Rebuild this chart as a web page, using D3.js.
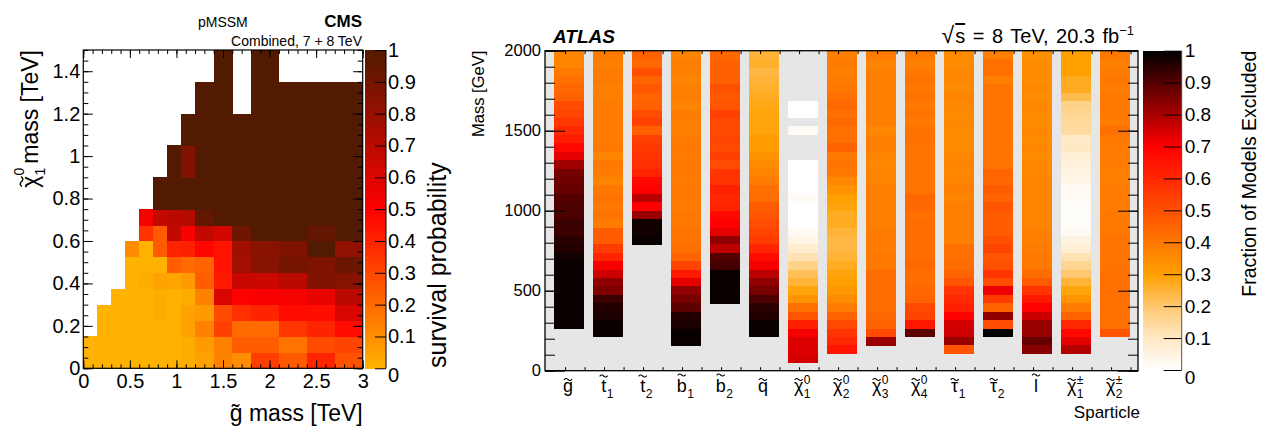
<!DOCTYPE html>
<html>
<head>
<meta charset="utf-8">
<script src="https://cdn.jsdelivr.net/npm/d3@7"></script>
<style>
  body { margin: 0; background: #fff; }
  svg text { font-family: "Liberation Sans", Arial, Helvetica, sans-serif; fill: #000; }
  rect { shape-rendering: crispEdges; }
</style>
</head>
<body>
<svg id="chart" width="1262" height="427"></svg>
<script>
// ---------------- CMS panel data ----------------
// gluino mass bin edges [TeV] (variable binning) and neutralino mass bin edges [TeV]
const cmsGluinoEdges = [0, 0.15, 0.3, 0.45, 0.6, 0.75, 0.9, 1.05, 1.2, 1.4, 1.6, 1.8, 2.1, 2.4, 2.7, 3.0];
const cmsLspEdges = [0, 0.075, 0.15, 0.225, 0.3, 0.375, 0.45, 0.525, 0.6, 0.675, 0.75,
                     0.825, 0.9, 0.975, 1.05, 1.125, 1.2, 1.275, 1.35, 1.425, 1.5];
const N = null;
// survival probability, one row per neutralino bin (bottom -> top), one entry per gluino bin
const cmsSurvival = [
  [0, 0, 0, 0, 0, 0, 0, 0.02, 0.05, 0.14, 0.10, 0.33, 0.25, 0.40, 0.27],
  [0, 0, 0, 0, 0, 0, 0, 0.02, 0.07, 0.14, 0.24, 0.24, 0.18, 0.29, 0.31],
  [N, 0, 0, 0, 0, 0, 0, 0.05, 0.14, 0.32, 0.20, 0.20, 0.35, 0.40, 0.47],
  [N, 0, 0, 0, 0, 0.02, 0, 0.05, 0.07, 0.29, 0.37, 0.40, 0.47, 0.46, 0.61],
  [N, N, 0, 0, 0, 0.02, 0, 0.02, 0.14, 0.61, 0.50, 0.52, 0.53, 0.57, 0.70],
  [N, N, N, 0, 0.02, 0.05, 0.04, 0.07, 0.24, 0.43, 0.66, 0.65, 0.70, 0.86, 0.85],
  [N, N, N, 0, 0, 0, 0.24, 0.20, 0.22, 0.45, 0.77, 0.85, 0.90, 0.87, 0.93],
  [N, N, N, 0.11, 0, 0.25, 0.40, 0.41, 0.48, 0.45, 0.78, 0.84, 0.87, 1, 0.82],
  [N, N, N, N, 0.36, 0.25, 0.68, 0.52, 0.68, 0.62, 0.92, 1, 1, 0.95, 1],
  [N, N, N, N, 0.53, 0.68, 0.70, 0.72, 0.95, 1, 1, 1, 1, 1, 1],
  [N, N, N, N, N, 1, 1, 1, 1, 1, 1, 1, 1, 1, 1],
  [N, N, N, N, N, 1, 1, 1, 1, 1, 1, 1, 1, 1, 1],
  [N, N, N, N, N, N, 1, 0.87, 1, 1, 1, 1, 1, 1, 1],
  [N, N, N, N, N, N, 1, 0.87, 1, 1, 1, 1, 1, 1, 1],
  [N, N, N, N, N, N, N, 1, 1, 1, 1, 1, 1, 1, 1],
  [N, N, N, N, N, N, N, 1, 1, 1, 1, 1, 1, 1, 1],
  [N, N, N, N, N, N, N, N, 1, 1, N, 1, 1, 1, 1],
  [N, N, N, N, N, N, N, N, 1, 1, N, 1, 1, 1, 1],
  [N, N, N, N, N, N, N, N, N, 1, N, 1, N, N, N],
  [N, N, N, N, N, N, N, N, N, 1, N, 1, N, N, N]
];
const cmsXTicks = [0, 0.5, 1, 1.5, 2, 2.5, 3];
const cmsYTicks = [0, 0.2, 0.4, 0.6, 0.8, 1, 1.2, 1.4];
const cmsZTicks = [0, 0.1, 0.2, 0.3, 0.4, 0.5, 0.6, 0.7, 0.8, 0.9, 1];

// ---------------- ATLAS panel data ----------------
const massBinWidth = 2000 / 38;   // GeV, bins listed from 2000 GeV downwards
const gluino   = [0.37,0.37,0.40,0.42,0.44,0.46,0.51,0.53,0.56,0.60,0.63,0.68,0.73,0.81,0.86,0.87,0.88,0.90,0.91,0.91,0.93,0.93,0.95,0.96,0.98,0.99,0.99,0.99,0.99,0.99,0.99,0.99,0.99];
const stop1    = [0.39,0.38,0.39,0.39,0.38,0.38,0.39,0.39,0.39,0.39,0.39,0.40,0.37,0.40,0.39,0.37,0.40,0.41,0.40,0.41,0.39,0.47,0.47,0.55,0.61,0.71,0.76,0.83,0.85,0.93,0.96,0.97,0.99,0.99];
const stop2    = [0.46,0.44,0.50,0.45,0.48,0.45,0.46,0.51,0.54,0.46,0.54,0.56,0.57,0.58,0.61,0.68,0.70,0.78,0.70,0.82,0.98,0.98,0.99];
const sbottom1 = [0.37,0.38,0.38,0.37,0.38,0.38,0.37,0.39,0.38,0.38,0.39,0.40,0.39,0.40,0.40,0.39,0.40,0.40,0.39,0.40,0.40,0.41,0.41,0.42,0.45,0.53,0.64,0.73,0.83,0.86,0.89,0.96,0.97,0.99,0.99];
const sbottom2 = [0.44,0.46,0.46,0.46,0.50,0.48,0.49,0.54,0.52,0.52,0.53,0.52,0.54,0.51,0.57,0.57,0.62,0.60,0.61,0.68,0.70,0.73,0.83,0.78,0.90,0.92,0.99,0.99,0.99,0.99];
const squark   = [0.25,0.26,0.24,0.25,0.26,0.27,0.28,0.29,0.29,0.29,0.31,0.31,0.33,0.35,0.37,0.39,0.42,0.43,0.47,0.49,0.51,0.53,0.55,0.61,0.67,0.71,0.78,0.83,0.86,0.91,0.95,0.96,0.99,0.99];
const neutralino1 = [N,N,N,N,N,N,0,0,N,0.02,N,N,N,0,0,0,0,0.02,0,0,0,0.02,0.04,0.08,0.12,0.17,0.22,0.25,0.29,0.33,0.42,0.49,0.62,0.71,0.74,0.74,0.75];
const neutralino2 = [0.38,0.39,0.38,0.39,0.40,0.42,0.44,0.42,0.44,0.42,0.42,0.45,0.40,0.41,0.40,0.36,0.33,0.30,0.29,0.27,0.27,0.25,0.24,0.24,0.25,0.27,0.29,0.30,0.32,0.35,0.39,0.45,0.52,0.57,0.60,0.65];
const neutralino3 = [0.39,0.37,0.38,0.38,0.38,0.38,0.38,0.38,0.38,0.36,0.38,0.38,0.37,0.36,0.37,0.37,0.38,0.38,0.38,0.38,0.38,0.39,0.39,0.39,0.40,0.40,0.43,0.43,0.43,0.43,0.43,0.44,0.45,0.52,0.82];
const neutralino4 = [0.40,0.38,0.40,0.41,0.40,0.41,0.40,0.41,0.40,0.41,0.42,0.41,0.41,0.41,0.41,0.41,0.41,0.44,0.44,0.42,0.43,0.43,0.43,0.43,0.43,0.44,0.43,0.43,0.44,0.45,0.52,0.53,0.64,0.89];
const stau1    = [0.35,0.35,0.36,0.36,0.35,0.37,0.36,0.35,0.36,0.35,0.35,0.35,0.36,0.37,0.36,0.37,0.38,0.37,0.38,0.38,0.38,0.38,0.38,0.42,0.42,0.43,0.45,0.49,0.57,0.60,0.62,0.70,0.75,0.76,0.82,0.49];
const stau2    = [0.38,0.42,0.42,0.38,0.41,0.41,0.41,0.41,0.41,0.41,0.41,0.41,0.41,0.41,0.45,0.44,0.47,0.45,0.49,0.47,0.47,0.47,0.50,0.53,0.49,0.50,0.57,0.51,0.72,0.55,0.45,0.83,0.51,1.0];
const slepton  = [0.34,0.35,0.35,0.35,0.36,0.35,0.36,0.35,0.35,0.36,0.35,0.36,0.35,0.36,0.36,0.37,0.37,0.37,0.37,0.37,0.37,0.38,0.38,0.39,0.40,0.40,0.43,0.47,0.57,0.64,0.70,0.76,0.82,0.82,0.88,0.84];
const chargino1 = [0.30,0.30,0.30,0.27,0.27,0.23,0.17,0.16,0.15,0.14,0.09,0.10,0.07,0.06,0.05,0.04,0.02,0.02,0.01,0.01,0.01,0.02,0.05,0.07,0.12,0.16,0.20,0.25,0.29,0.33,0.39,0.45,0.60,0.68,0.73,0.79];
const chargino2 = [0.40,0.38,0.39,0.40,0.39,0.40,0.40,0.40,0.39,0.42,0.40,0.39,0.39,0.39,0.38,0.38,0.39,0.39,0.39,0.40,0.40,0.40,0.41,0.41,0.41,0.41,0.42,0.42,0.42,0.42,0.42,0.42,0.42,0.49];

const sparticleBars = [gluino, stop1, stop2, sbottom1, sbottom2, squark,
  neutralino1, neutralino2, neutralino3, neutralino4, stau1, stau2, slepton, chargino1, chargino2];
const sparticleBase = ["g","t","t","b","b","q","χ","χ","χ","χ","τ","τ","l","χ","χ"];
const sparticleSub  = ["","1","2","1","2","","1","2","3","4","1","2","","1","2"];
const sparticleSup  = ["","","","","","","0","0","0","0","","","","±","±"];
const atlasYTicks = [0, 500, 1000, 1500, 2000];
const atlasZTicks = [0, 0.1, 0.2, 0.3, 0.4, 0.5, 0.6, 0.7, 0.8, 0.9, 1];

const svg = d3.select("#chart");
const fmt = d3.format("~g");

// ---------------- helpers ----------------
function tickAxis(g, axisFn, scale, values, size, labels, pad, format) {
  const ax = axisFn(scale).tickValues(values).tickSize(-size).tickPadding(pad || 4);
  ax.tickFormat(labels ? (format || fmt) : "");
  g.call(ax);
  g.select(".domain").remove();
  g.selectAll(".tick line").attr("stroke", "#000");
  g.selectAll(".tick text").attr("fill", "#000");
  return g;
}

// a small tilde drawn as a path, centred at (x, y)
function tilde(parent, x, y, w, sw) {
  const a = w * 0.16;
  const pts = d3.range(0, 1.0001, 0.1).map(function(t) {
    return [x - w / 2 + t * w, y - a * Math.sin(2 * Math.PI * t) + a * 0.5 * (0.5 - t)];
  });
  parent.append("path").attr("d", d3.line().curve(d3.curveBasis)(pts))
    .attr("fill", "none").attr("stroke", "#000").attr("stroke-width", sw || 1.1);
}

// letter with tilde and optional stacked sub/superscript, centred at cx
const tallLetters = { t: 16, b: 17, l: 17 };
function tildeLabel(parent, cx, y, base, sub, sup, size, idxSize, subDy, supDy) {
  const g = parent.append("g");
  const main = g.append("text").attr("y", y).attr("font-size", size).text(base);
  const w = main.node().getComputedTextLength();
  let iw = 0, subT = null, supT = null;
  if (sub) {
    subT = g.append("text").attr("y", y + subDy).attr("font-size", idxSize).text(sub);
    iw = Math.max(iw, subT.node().getComputedTextLength());
  }
  if (sup) {
    supT = g.append("text").attr("y", y + supDy).attr("font-size", idxSize).text(sup);
    iw = Math.max(iw, supT.node().getComputedTextLength());
  }
  const x0 = cx - (w + iw) / 2;
  main.attr("x", x0);
  if (subT) subT.attr("x", x0 + w + 0.5);
  if (supT) supT.attr("x", x0 + w + 0.5);
  const lift = tallLetters[base] || 12.5;
  tilde(g, x0 + w / 2, y - lift, 8, 1.1);
  return g;
}

// ================= CMS panel =================
const cx = d3.scaleLinear().domain([0, 3]).range([83.3, 362.7]);
const cy = d3.scaleLinear().domain([0, 1.5]).range([368.3, 50]);
const cmsColor = d3.scaleLinear().domain([0, 0.5, 1])
  .range(["#ffb300", "#ff0000", "#521a00"]).clamp(true);

const cells = [];
cmsSurvival.forEach(function(row, r) {
  row.forEach(function(v, c) {
    if (v !== null) cells.push({ r: r, c: c, v: v });
  });
});

svg.append("g").attr("class", "cms-cells")
  .selectAll("rect").data(cells).enter().append("rect")
  .attr("x", function(d) { return cx(cmsGluinoEdges[d.c]); })
  .attr("y", function(d) { return cy(cmsLspEdges[d.r + 1]); })
  .attr("width", function(d) { return cx(cmsGluinoEdges[d.c + 1]) - cx(cmsGluinoEdges[d.c]) + 0.5; })
  .attr("height", function(d) { return cy(cmsLspEdges[d.r]) - cy(cmsLspEdges[d.r + 1]) + 0.5; })
  .attr("fill", function(d) { return cmsColor(d.v); });

// ticks, inside on all four sides
const cmsXMinor = d3.range(0, 3.0001, 0.1);
const cmsYMinor = d3.range(0, 1.5001, 0.05);
tickAxis(svg.append("g").attr("transform", "translate(0,368.3)"), d3.axisBottom, cx, cmsXMinor, 4, false);
tickAxis(svg.append("g").attr("transform", "translate(0,368.3)"), d3.axisBottom, cx, cmsXTicks, 8, true, 5.5)
  .selectAll("text").attr("font-size", 20);
tickAxis(svg.append("g").attr("transform", "translate(0,50)"), d3.axisTop, cx, cmsXMinor, 4, false);
tickAxis(svg.append("g").attr("transform", "translate(0,50)"), d3.axisTop, cx, cmsXTicks, 8, false);
tickAxis(svg.append("g").attr("transform", "translate(83.3,0)"), d3.axisLeft, cy, cmsYMinor, 5, false);
tickAxis(svg.append("g").attr("transform", "translate(83.3,0)"), d3.axisLeft, cy, cmsYTicks, 9.5, true, 3)
  .selectAll("text").attr("font-size", 20);
tickAxis(svg.append("g").attr("transform", "translate(362.7,0)"), d3.axisRight, cy, cmsYMinor, 5, false);
tickAxis(svg.append("g").attr("transform", "translate(362.7,0)"), d3.axisRight, cy, cmsYTicks, 9.5, false);

svg.append("rect").attr("x", cx(0)).attr("y", cy(1.5))
  .attr("width", cx(3) - cx(0)).attr("height", cy(0) - cy(1.5))
  .attr("fill", "none").attr("stroke", "#000").attr("stroke-width", 1.2)
  .style("shape-rendering", "auto");

// CMS colour bar
const cz = d3.scaleLinear().domain([0, 1]).range([368.3, 50]);
const zSteps = d3.range(0, 1, 0.005);
svg.append("g").selectAll("rect").data(zSteps).enter().append("rect")
  .attr("x", 365).attr("width", 21)
  .attr("y", function(d) { return cz(d + 0.005); })
  .attr("height", function(d) { return cz(d) - cz(d + 0.005) + 0.5; })
  .attr("fill", function(d) { return cmsColor(d + 0.0025); });
const czAxis = tickAxis(svg.append("g").attr("transform", "translate(386,0)"), d3.axisRight, cz, cmsZTicks, 11, true, 2);
czAxis.selectAll("text").attr("font-size", 20)
  .attr("dy", function(d) { return d === 0 ? "0.65em" : "0.32em"; });
svg.append("line").attr("x1", 386).attr("x2", 386).attr("y1", 50).attr("y2", 368.3).attr("stroke", "#000");

// CMS texts
svg.append("text").attr("x", 198).attr("y", 27).attr("font-size", 14).text("pMSSM");
svg.append("text").attr("x", 362).attr("y", 27).attr("font-size", 17).attr("font-weight", "bold")
  .attr("text-anchor", "end").text("CMS");
svg.append("text").attr("x", 362).attr("y", 46).attr("font-size", 14)
  .attr("text-anchor", "end").text("Combined, 7 + 8 TeV");
svg.append("text").attr("x", 362.7).attr("y", 421).attr("font-size", 23)
  .attr("text-anchor", "end").text("g\u0303 mass [TeV]");
svg.append("text").attr("transform", "translate(446,368) rotate(-90)")
  .attr("font-size", 25).text("survival probability");

// rotated y title with chi tilde, sub 1, sup 0
const yTitle = svg.append("g").attr("transform", "translate(38,50) rotate(-90)");
const yt1 = yTitle.append("text").attr("font-size", 23).text("χ");
const yt2 = yTitle.append("text").attr("font-size", 14).attr("y", 7).text("1");
const yt3 = yTitle.append("text").attr("font-size", 14).attr("y", -14).text("0");
const yt4 = yTitle.append("text").attr("font-size", 23).text(" mass [TeV]");
(function() {
  const w1 = yt1.node().getComputedTextLength();
  const w2 = Math.max(yt2.node().getComputedTextLength(), yt3.node().getComputedTextLength()) + 4;
  const w4 = yt4.node().getComputedTextLength();
  const x0 = -(w1 + w2 + w4);
  yt1.attr("x", x0);
  yt2.attr("x", x0 + w1);
  yt3.attr("x", x0 + w1);
  yt4.attr("x", x0 + w1 + w2);
  tilde(yTitle, x0 + w1 / 2, -16.5, 10, 1.4);
})();

// ================= ATLAS panel =================
const ax = d3.scaleLinear().domain([-0.615, 14.59]).range([545, 1138]);
const ay = d3.scaleLinear().domain([0, 2000]).range([370.7, 50.7]);
const atlasColor = d3.scaleLinear().domain([0, 0.1, 0.2, 0.3, 0.7, 1])
  .range(["#ffffff", "#ffe8c4", "#ffc870", "#ffa000", "#ff0000", "#000000"]).clamp(true);
const barHalf = 0.385;

svg.append("rect").attr("x", 545).attr("y", ay(2000))
  .attr("width", 1138 - 545).attr("height", ay(0) - ay(2000)).attr("fill", "#e6e6e6");

const segs = [];
sparticleBars.forEach(function(vals, i) {
  vals.forEach(function(v, k) {
    if (v !== null) segs.push({ i: i, top: 2000 - k * massBinWidth, bot: 2000 - (k + 1) * massBinWidth, v: v });
  });
});
svg.append("g").attr("class", "atlas-bars")
  .selectAll("rect").data(segs).enter().append("rect")
  .attr("x", function(d) { return ax(d.i - barHalf); })
  .attr("width", function(d) { return ax(d.i + barHalf) - ax(d.i - barHalf); })
  .attr("y", function(d) { return ay(d.top); })
  .attr("height", function(d) { return ay(d.bot) - ay(d.top) + 0.4; })
  .attr("fill", function(d) { return atlasColor(d.v); });

const atlasMinor = d3.range(0, 2001, 100);
const yFmt = d3.format("d");
tickAxis(svg.append("g").attr("transform", "translate(545,0)"), d3.axisLeft, ay, atlasMinor, 10, false);
tickAxis(svg.append("g").attr("transform", "translate(545,0)"), d3.axisLeft, ay, atlasYTicks, 20, true, 4, yFmt)
  .selectAll("text").attr("font-size", 16.5);
tickAxis(svg.append("g").attr("transform", "translate(1138,0)"), d3.axisRight, ay, atlasMinor, 10, false);
tickAxis(svg.append("g").attr("transform", "translate(1138,0)"), d3.axisRight, ay, atlasYTicks, 20, false);
// small category-axis ticks on top and bottom edges
const catTicks = d3.range(-0.1, 14.5, 0.5);
tickAxis(svg.append("g").attr("transform", "translate(0,370.7)"), d3.axisBottom, ax, catTicks, 3.5, false);
tickAxis(svg.append("g").attr("transform", "translate(0,50.7)"), d3.axisTop, ax, catTicks, 3.5, false);
svg.selectAll(".tick line").attr("stroke-width", 1);

svg.append("rect").attr("x", 545).attr("y", ay(2000))
  .attr("width", 1138 - 545).attr("height", ay(0) - ay(2000))
  .attr("fill", "none").attr("stroke", "#000").attr("stroke-width", 1.3)
  .style("shape-rendering", "auto");

// sparticle labels
const lblG = svg.append("g");
sparticleBase.forEach(function(b, i) {
  tildeLabel(lblG, ax(i) - 1, 392, b, sparticleSub[i], sparticleSup[i], 18, 12, 6, -8.5);
});

// ATLAS colour bar
const az = d3.scaleLinear().domain([0, 1]).range([370, 50.7]);
svg.append("g").selectAll("rect").data(zSteps).enter().append("rect")
  .attr("x", 1143.3).attr("width", 38.4)
  .attr("y", function(d) { return az(d + 0.005); })
  .attr("height", function(d) { return az(d) - az(d + 0.005) + 0.5; })
  .attr("fill", function(d) { return atlasColor(d + 0.0025); });
const azAxis = tickAxis(svg.append("g").attr("transform", "translate(1181.7,0)"), d3.axisRight, az, atlasZTicks, 18, true, 3);
azAxis.selectAll("text").attr("font-size", 19)
  .attr("dy", function(d) { return d === 0 ? "0.7em" : "0.32em"; });
svg.append("line").attr("x1", 1181.7).attr("x2", 1181.7).attr("y1", 50.7).attr("y2", 370).attr("stroke", "#555");

// ATLAS texts
svg.append("text").attr("x", 553).attr("y", 43).attr("font-size", 19)
  .attr("font-weight", "bold").attr("font-style", "italic").text("ATLAS");
const lumi = svg.append("text").attr("x", 1134).attr("y", 43).attr("font-size", 20)
  .attr("text-anchor", "end").attr("word-spacing", 2);
lumi.append("tspan").attr("font-size", 23).text("√");
lumi.append("tspan").attr("dx", 1).attr("text-decoration", "overline").text("s");
lumi.append("tspan").text(" = 8 TeV, 20.3 fb");
lumi.append("tspan").attr("font-size", 13).attr("dy", -8).text("−1");
svg.append("text").attr("transform", "translate(484,50.7) rotate(-90)")
  .attr("font-size", 16.5).attr("text-anchor", "end").text("Mass [GeV]");
svg.append("text").attr("transform", "translate(1256,50.7) rotate(-90)")
  .attr("font-size", 19.5).attr("text-anchor", "end").text("Fraction of Models Excluded");
svg.append("text").attr("x", 1140).attr("y", 418).attr("font-size", 17)
  .attr("text-anchor", "end").text("Sparticle");
</script>
</body>
</html>
